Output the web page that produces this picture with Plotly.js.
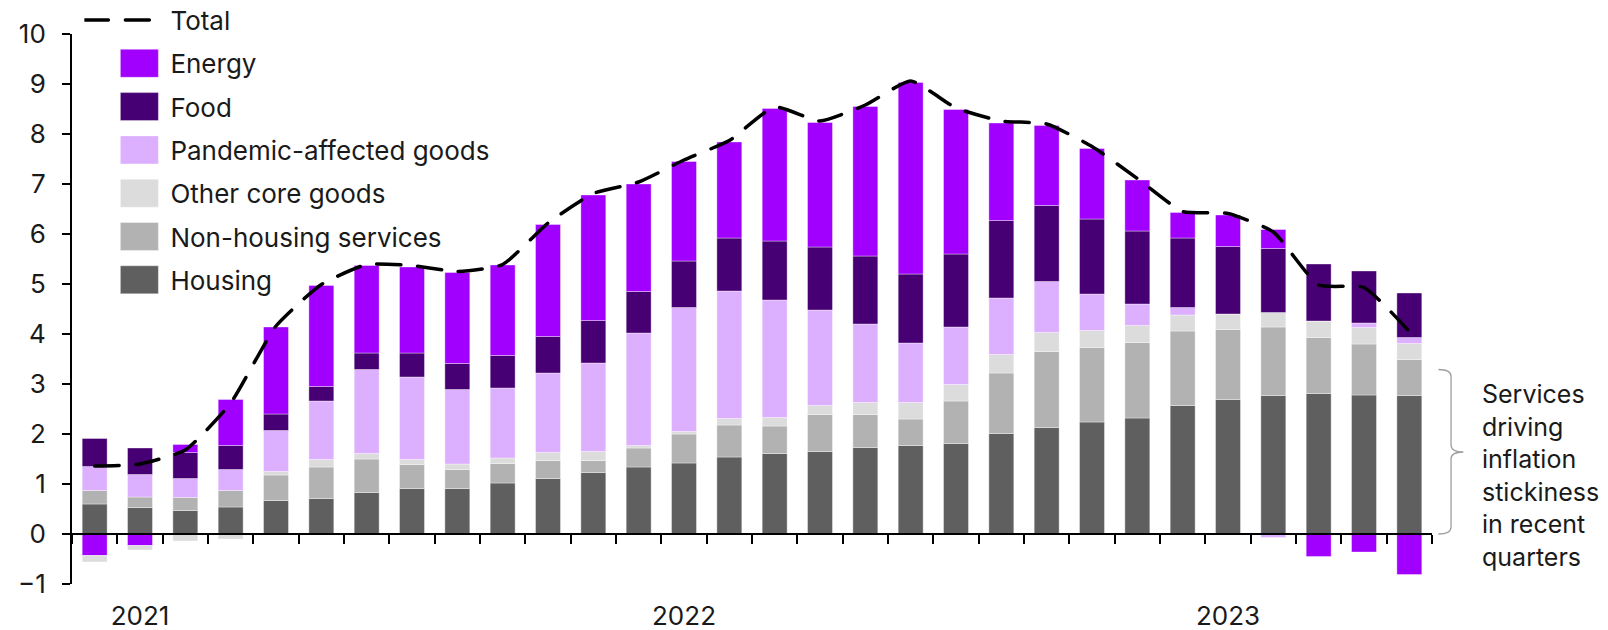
<!DOCTYPE html>
<html>
<head>
<meta charset="utf-8">
<script src="https://cdn.plot.ly/plotly-3.0.1.min.js"></script>
<style>
	html, body { margin: 0; padding: 0; background: #fff; }
	#chart { width: 1608px; height: 630px; }
	#chart .js-line { stroke-linecap: round; }
</style>
</head>
<body>
<div id="chart"></div>
<script>
// months Dec 2020 .. May 2023, contributions in percentage points
const months = [
	"2020-12", "2021-01", "2021-02", "2021-03", "2021-04", "2021-05",
	"2021-06", "2021-07", "2021-08", "2021-09", "2021-10", "2021-11",
	"2021-12", "2022-01", "2022-02", "2022-03", "2022-04", "2022-05",
	"2022-06", "2022-07", "2022-08", "2022-09", "2022-10", "2022-11",
	"2022-12", "2023-01", "2023-02", "2023-03", "2023-04", "2023-05"
];
const yearLabels = months.map(m => (m.endsWith("-01") ? m.slice(0, 4) : ""));

const housing = [0.60, 0.53, 0.47, 0.54, 0.67, 0.71, 0.83, 0.91, 0.91, 1.02, 1.11, 1.23, 1.34, 1.42, 1.54, 1.61, 1.65, 1.73, 1.77, 1.81, 2.01, 2.13, 2.24, 2.32, 2.57, 2.69, 2.77, 2.81, 2.78, 2.77];
const nonHousing = [0.27, 0.21, 0.26, 0.33, 0.51, 0.63, 0.67, 0.48, 0.38, 0.39, 0.36, 0.24, 0.38, 0.58, 0.64, 0.55, 0.74, 0.66, 0.53, 0.85, 1.21, 1.52, 1.49, 1.51, 1.49, 1.40, 1.37, 1.12, 1.02, 0.72];
const otherCore = [-0.13, -0.09, -0.14, -0.10, 0.07, 0.15, 0.11, 0.10, 0.11, 0.11, 0.16, 0.18, 0.05, 0.05, 0.13, 0.17, 0.18, 0.24, 0.33, 0.33, 0.37, 0.38, 0.34, 0.34, 0.32, 0.31, 0.29, 0.33, 0.33, 0.32];
const pandemic = [0.48, 0.45, 0.38, 0.42, 0.82, 1.17, 1.68, 1.65, 1.49, 1.40, 1.59, 1.77, 2.25, 2.48, 2.55, 2.35, 1.91, 1.57, 1.19, 1.15, 1.13, 1.02, 0.73, 0.43, 0.15, 0, -0.07, 0, 0.09, 0.12];
const food = [0.56, 0.53, 0.52, 0.48, 0.33, 0.29, 0.33, 0.48, 0.52, 0.65, 0.73, 0.85, 0.83, 0.93, 1.06, 1.18, 1.26, 1.36, 1.38, 1.46, 1.55, 1.52, 1.50, 1.46, 1.39, 1.35, 1.28, 1.14, 1.04, 0.89];
const energy = [-0.43, -0.23, 0.16, 0.92, 1.74, 2.02, 1.75, 1.72, 1.82, 1.81, 2.24, 2.51, 2.15, 1.99, 1.92, 2.65, 2.49, 2.99, 3.83, 2.89, 1.95, 1.60, 1.41, 1.02, 0.51, 0.63, 0.38, -0.45, -0.36, -0.81];
const total = [1.36, 1.40, 1.68, 2.62, 4.16, 4.99, 5.39, 5.37, 5.25, 5.39, 6.22, 6.81, 7.04, 7.48, 7.87, 8.54, 8.26, 8.58, 9.06, 8.52, 8.26, 8.20, 7.75, 7.11, 6.45, 6.41, 6.04, 4.98, 4.93, 4.05];

const FONT = "Inter, Roboto, 'DejaVu Sans', sans-serif";

function bar(name, y, color, rank, extra) {
	return Object.assign({
		type: "bar",
		name: name,
		legendgroup: name,
		legendrank: rank,
		x: months,
		y: y,
		marker: {
			color: color,
			line: { color: "rgba(255,255,255,0.45)", width: 0.8 }
		},
		hoverinfo: "skip"
	}, extra || {});
}

// other core goods sits below energy when negative, so its negative part goes last
const traces = [
	bar("Housing", housing, "#5f5f5f", 7),
	bar("Non-housing services", nonHousing, "#b2b2b2", 6),
	bar("Other core goods", otherCore.map(v => (v >= 0 ? v : null)), "#dcdcdc", 5),
	bar("Pandemic-affected goods", pandemic, "#dcafff", 4),
	bar("Food", food, "#460073", 3),
	bar("Energy", energy, "#a100ff", 2),
	bar("Other core goods", otherCore.map(v => (v < 0 ? v : null)), "#dcdcdc", 5, { showlegend: false }),
	{
		type: "scatter",
		mode: "lines",
		name: "Total",
		legendgroup: "Total",
		legendrank: 1,
		x: months,
		y: total,
		line: { color: "#000", width: 3.5, dash: "24px,17px", shape: "spline", smoothing: 0.5 },
		hoverinfo: "skip"
	}
];

const layout = {
	width: 1608,
	height: 630,
	margin: { l: 72, r: 176, t: 34, b: 46, pad: 0, autoexpand: false },
	paper_bgcolor: "#fff",
	plot_bgcolor: "#fff",
	font: { family: FONT, size: 26, color: "#1a1a1a" },
	barmode: "relative",
	bargap: 0.45,
	showlegend: true,
	legend: {
		x: 0.0091,
		xanchor: "left",
		y: 1.068,
		yanchor: "top",
		traceorder: "grouped",
		tracegroupgap: 6.5,
		itemwidth: 76,
		bgcolor: "rgba(0,0,0,0)",
		font: { family: FONT, size: 26, color: "#1a1a1a" }
	},
	xaxis: {
		type: "category",
		anchor: "free",
		position: 1 / 11,
		showline: true,
		linecolor: "#000",
		linewidth: 2,
		ticks: "outside",
		tickson: "boundaries",
		ticklen: 9,
		tickwidth: 2,
		tickcolor: "#000",
		tickvals: months,
		ticktext: yearLabels,
		tickangle: 0,
		ticklabelstandoff: 59,
		showgrid: false,
		zeroline: false,
		tickfont: { family: FONT, size: 26, color: "#1a1a1a" }
	},
	yaxis: {
		range: [-1, 10],
		dtick: 1,
		showline: true,
		linecolor: "#000",
		linewidth: 2,
		ticks: "outside",
		ticklen: 8,
		tickwidth: 2,
		tickcolor: "#000",
		ticklabelstandoff: 11,
		showgrid: false,
		zeroline: false,
		tickfont: { family: FONT, size: 26, color: "#1a1a1a" }
	},
	shapes: [
		{
			// brace next to the services part of the latest bar
			type: "path",
			xref: "paper",
			yref: "y",
			path: "M1.0047,3.29 Q1.014,3.29 1.014,3.15 L1.014,1.78 Q1.014,1.64 1.0231,1.64 Q1.014,1.64 1.014,1.5 L1.014,0.14 Q1.014,0 1.0047,0",
			line: { color: "#a0a0a0", width: 1.3 }
		}
	],
	annotations: [
		{
			xref: "paper",
			yref: "y",
			x: 1.0355,
			y: 1.17,
			xanchor: "left",
			yanchor: "middle",
			align: "left",
			showarrow: false,
			text: "Services<br>driving<br>inflation<br>stickiness<br>in recent<br>quarters",
			font: { family: FONT, size: 25, color: "#1a1a1a" }
		}
	]
};

const gd = document.getElementById("chart");

// larger legend swatches and a longer dashed sample, as in the original
function styleLegend() {
	gd.querySelectorAll(".legend g.traces").forEach(function (item) {
		const lines = item.querySelectorAll("path.js-line");
		if (lines.length) {
			lines.forEach(p => p.setAttribute("d", "M0,0h74"));
			return;
		}
		item.querySelectorAll(".legendpoints path").forEach(function (p) {
			p.setAttribute("d", "M19,14H-19V-14H19Z");
			p.setAttribute("transform", "translate(55,0)");
		});
	});
}

Plotly.newPlot(gd, traces, layout, { staticPlot: true, displayModeBar: false }).then(function () {
	styleLegend();
	gd.on("plotly_afterplot", styleLegend);
	setTimeout(styleLegend, 300);
});
</script>
</body>
</html>
